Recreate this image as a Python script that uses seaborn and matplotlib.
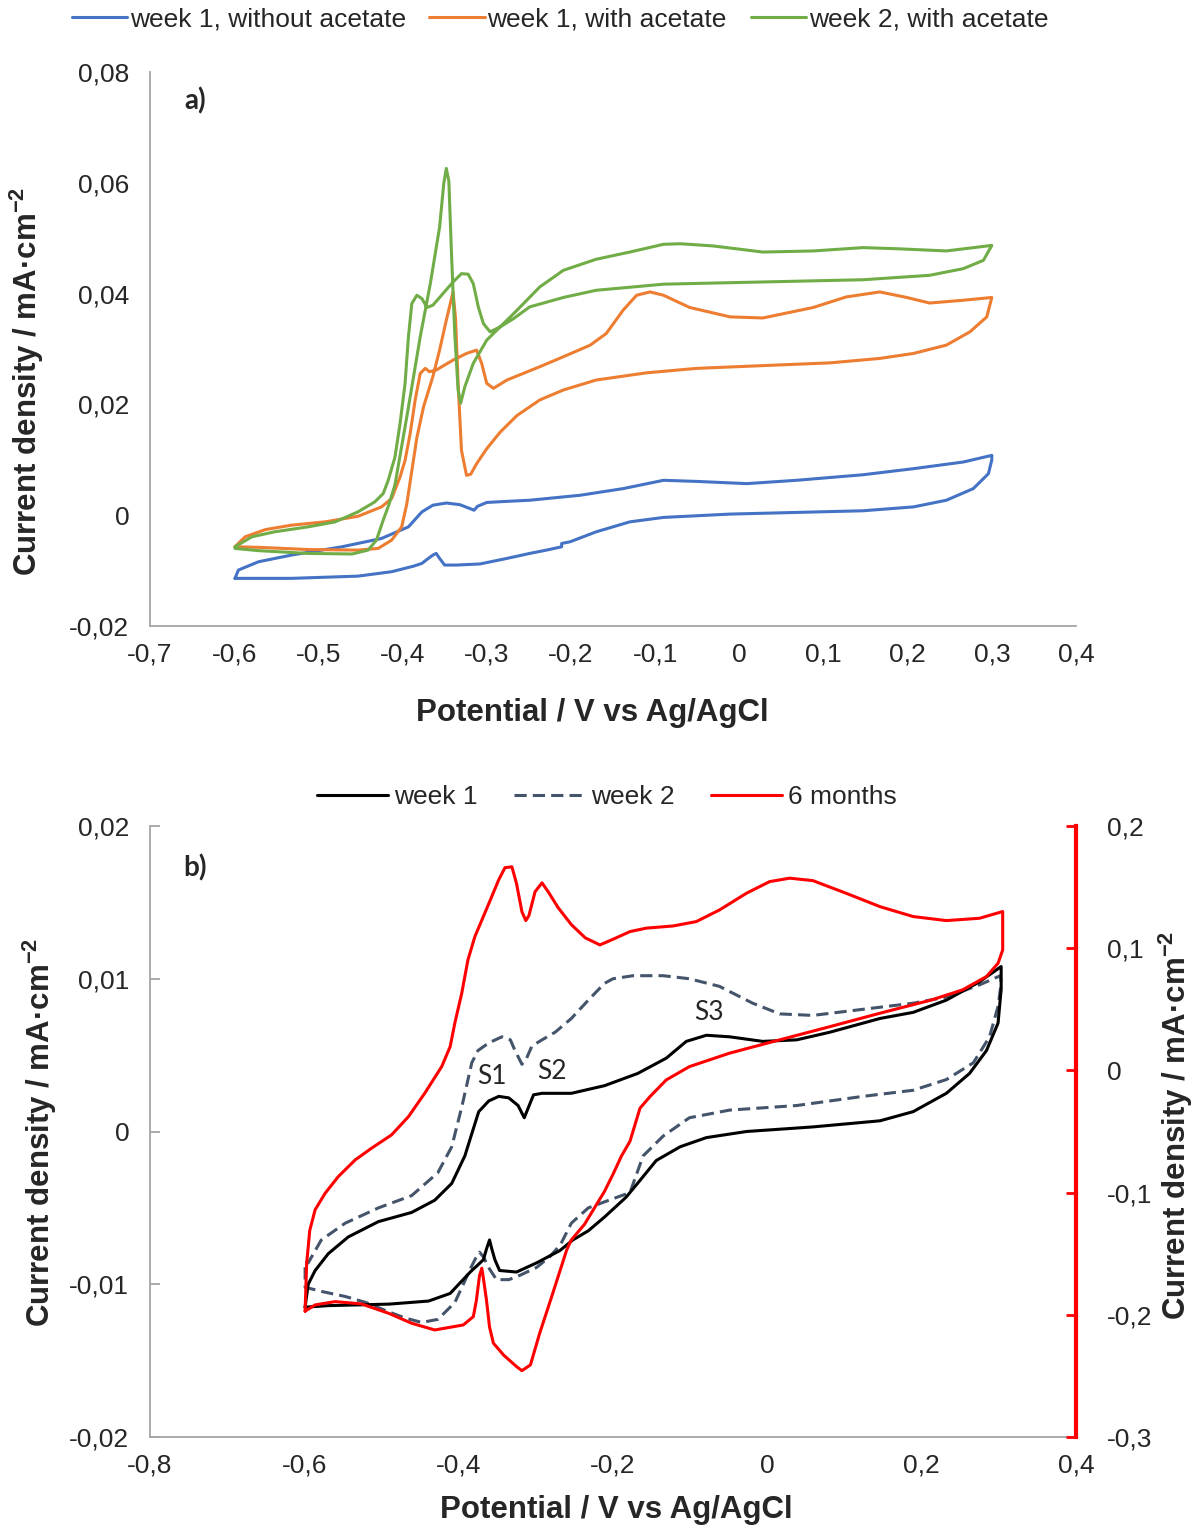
import numpy as np
import matplotlib
matplotlib.use("Agg")
import matplotlib.pyplot as plt
import seaborn as sns
from matplotlib.ticker import FuncFormatter
from matplotlib.lines import Line2D

# ---------------- data : panel a ----------------
blue_v = [-0.599,-0.595,-0.571,-0.532,-0.472,-0.425,-0.393,-0.377,-0.364,-0.348,-0.332,-0.320,-0.315,-0.311,-0.300,-0.276,-0.249,-0.189,-0.138,-0.090,-0.051,0.009,0.068,0.147,0.207,0.266,0.300,
          0.300,0.296,0.278,0.246,0.207,0.147,0.068,-0.011,-0.090,-0.130,-0.170,-0.201,-0.211,-0.211,-0.229,-0.249,-0.276,-0.308,-0.336,-0.350,-0.356,-0.360,-0.364,-0.372,-0.377,-0.387,-0.413,-0.453,-0.532,-0.599]
blue_i = [-0.0114,-0.0099,-0.0084,-0.0072,-0.0057,-0.0042,-0.0021,0.0006,0.0018,0.0022,0.0019,0.0012,0.0009,0.0016,0.0023,0.0025,0.0027,0.0036,0.0048,0.0063,0.0061,0.0057,0.0063,0.0073,0.0084,0.0096,0.0108,
          0.0100,0.0075,0.0048,0.0027,0.0015,0.0008,0.0005,0.0002,-0.0004,-0.0012,-0.0030,-0.0048,-0.0051,-0.0057,-0.0063,-0.0069,-0.0078,-0.0088,-0.0090,-0.0090,-0.0078,-0.0069,-0.0072,-0.0081,-0.0087,-0.0092,-0.0102,-0.0110,-0.0114,-0.0114]

orange_v = [-0.599,-0.571,-0.512,-0.453,-0.429,-0.413,-0.401,-0.395,-0.389,-0.383,-0.375,-0.364,-0.356,-0.348,-0.340,-0.337,-0.334,-0.330,-0.324,-0.319,-0.312,-0.300,-0.284,-0.264,-0.237,-0.209,-0.170,-0.110,-0.051,0.028,0.108,0.167,0.207,0.246,0.274,0.294,0.300,
            0.266,0.226,0.199,0.167,0.127,0.088,0.028,-0.011,-0.059,-0.090,-0.106,-0.122,-0.138,-0.158,-0.177,-0.209,-0.237,-0.276,-0.292,-0.300,-0.306,-0.312,-0.324,-0.340,-0.360,-0.368,-0.373,-0.379,-0.385,-0.391,-0.397,-0.403,-0.413,-0.425,-0.453,-0.492,-0.532,-0.563,-0.587,-0.599]
orange_i = [-0.0057,-0.0058,-0.0062,-0.0063,-0.0060,-0.0045,-0.0021,0.0020,0.0080,0.0140,0.0196,0.0250,0.0298,0.0352,0.0403,0.0354,0.0238,0.0117,0.0072,0.0074,0.0093,0.0120,0.0150,0.0180,0.0208,0.0226,0.0244,0.0257,0.0265,0.0270,0.0275,0.0283,0.0292,0.0307,0.0331,0.0358,0.0393,
            0.0388,0.0383,0.0393,0.0403,0.0394,0.0375,0.0356,0.0358,0.0375,0.0397,0.0403,0.0397,0.0370,0.0328,0.0307,0.0286,0.0268,0.0244,0.0229,0.0238,0.0274,0.0298,0.0292,0.0280,0.0262,0.0259,0.0265,0.0256,0.0208,0.0147,0.0099,0.0069,0.0030,0.0015,-0.0002,-0.0012,-0.0018,-0.0026,-0.0039,-0.0057]

green_v = [-0.599,-0.571,-0.512,-0.460,-0.441,-0.431,-0.423,-0.416,-0.409,-0.395,-0.379,-0.367,-0.356,-0.351,-0.348,-0.345,-0.342,-0.338,-0.334,-0.331,-0.326,-0.316,-0.300,-0.284,-0.264,-0.237,-0.209,-0.170,-0.130,-0.090,-0.070,-0.031,0.028,0.088,0.147,0.187,0.246,0.300,
           0.290,0.266,0.226,0.147,0.028,-0.090,-0.170,-0.209,-0.249,-0.268,-0.284,-0.296,-0.304,-0.310,-0.316,-0.322,-0.330,-0.340,-0.352,-0.364,-0.371,-0.377,-0.383,-0.389,-0.393,-0.397,-0.403,-0.409,-0.417,-0.423,-0.433,-0.453,-0.480,-0.512,-0.552,-0.579,-0.599]
green_i = [-0.0060,-0.0064,-0.0069,-0.0070,-0.0063,-0.0045,-0.0009,0.0020,0.0055,0.0177,0.0322,0.0418,0.0520,0.0599,0.0626,0.0603,0.0478,0.0328,0.0226,0.0202,0.0232,0.0274,0.0316,0.0340,0.0370,0.0412,0.0442,0.0462,0.0475,0.0489,0.0490,0.0486,0.0475,0.0477,0.0483,0.0481,0.0477,0.0487,
           0.0460,0.0445,0.0433,0.0425,0.0421,0.0417,0.0406,0.0393,0.0376,0.0355,0.0340,0.0331,0.0346,0.0376,0.0418,0.0435,0.0436,0.0421,0.0400,0.0379,0.0375,0.0391,0.0397,0.0382,0.0322,0.0238,0.0165,0.0105,0.0063,0.0039,0.0024,0.0006,-0.0012,-0.0021,-0.0030,-0.0039,-0.0057]

# ---------------- data : panel b ----------------
w1_v = [-0.599,-0.595,-0.586,-0.569,-0.543,-0.504,-0.461,-0.431,-0.409,-0.392,-0.379,-0.374,-0.361,-0.348,-0.335,-0.323,-0.315,-0.311,-0.303,-0.292,-0.254,-0.211,-0.168,-0.131,-0.105,-0.079,-0.049,-0.006,0.038,0.081,0.146,0.189,0.232,0.275,0.303,
        0.303,0.299,0.284,0.262,0.232,0.189,0.146,0.059,-0.027,-0.079,-0.113,-0.144,-0.165,-0.183,-0.211,-0.232,-0.252,-0.269,-0.299,-0.325,-0.347,-0.353,-0.357,-0.360,-0.364,-0.368,-0.385,-0.411,-0.439,-0.490,-0.569,-0.599]
w1_i = [-0.0115,-0.0100,-0.0091,-0.0080,-0.0069,-0.0059,-0.0053,-0.0045,-0.0034,-0.0016,0.0005,0.0013,0.0020,0.0023,0.0022,0.0017,0.0009,0.0014,0.0024,0.0025,0.0025,0.0030,0.0038,0.0048,0.0059,0.0063,0.0062,0.0059,0.0060,0.0065,0.0074,0.0078,0.0086,0.0098,0.0108,
        0.0093,0.0071,0.0053,0.0038,0.0025,0.0013,0.0007,0.0003,0.0000,-0.0004,-0.0010,-0.0019,-0.0032,-0.0043,-0.0056,-0.0065,-0.0071,-0.0078,-0.0086,-0.0092,-0.0091,-0.0084,-0.0077,-0.0071,-0.0077,-0.0084,-0.0092,-0.0106,-0.0111,-0.0113,-0.0114,-0.0115]

w2_v = [-0.599,-0.595,-0.578,-0.547,-0.504,-0.461,-0.427,-0.409,-0.396,-0.383,-0.375,-0.361,-0.344,-0.333,-0.327,-0.318,-0.312,-0.305,-0.292,-0.275,-0.254,-0.232,-0.211,-0.200,-0.174,-0.135,-0.101,-0.062,-0.019,0.016,0.059,0.124,0.189,0.232,0.275,0.302,
        0.303,0.299,0.288,0.267,0.232,0.189,0.124,0.038,-0.049,-0.101,-0.135,-0.161,-0.178,-0.200,-0.232,-0.254,-0.268,-0.282,-0.299,-0.320,-0.335,-0.351,-0.360,-0.368,-0.373,-0.378,-0.385,-0.394,-0.405,-0.427,-0.448,-0.470,-0.491,-0.520,-0.547,-0.575,-0.599,-0.599]
w2_i = [-0.0086,-0.0086,-0.0071,-0.0060,-0.0050,-0.0042,-0.0027,-0.0010,0.0016,0.0045,0.0053,0.0058,0.0062,0.0060,0.0053,0.0044,0.0048,0.0056,0.0060,0.0065,0.0074,0.0086,0.0097,0.0100,0.0102,0.0102,0.0100,0.0095,0.0084,0.0077,0.0076,0.0080,0.0084,0.0088,0.0096,0.0102,
        0.0097,0.0082,0.0062,0.0045,0.0034,0.0027,0.0023,0.0017,0.0014,0.0009,-0.0003,-0.0016,-0.0040,-0.0044,-0.0050,-0.0060,-0.0074,-0.0082,-0.0089,-0.0094,-0.0097,-0.0097,-0.0090,-0.0082,-0.0079,-0.0083,-0.0090,-0.0100,-0.0112,-0.0123,-0.0125,-0.0122,-0.0118,-0.0112,-0.0108,-0.0105,-0.0102,-0.0086]

m6_v = [-0.599,-0.597,-0.593,-0.586,-0.573,-0.556,-0.534,-0.513,-0.487,-0.465,-0.444,-0.422,-0.411,-0.405,-0.396,-0.388,-0.379,-0.361,-0.348,-0.340,-0.331,-0.325,-0.318,-0.313,-0.309,-0.301,-0.292,-0.284,-0.271,-0.254,-0.236,-0.217,-0.200,-0.178,-0.157,-0.122,-0.092,-0.062,-0.027,0.003,0.029,0.059,0.102,0.146,0.189,0.232,0.275,0.305,
        0.305,0.299,0.284,0.253,0.213,0.146,0.081,0.016,-0.049,-0.101,-0.131,-0.152,-0.165,-0.178,-0.189,-0.200,-0.211,-0.237,-0.254,-0.260,-0.278,-0.295,-0.307,-0.318,-0.325,-0.342,-0.355,-0.360,-0.364,-0.368,-0.370,-0.373,-0.377,-0.381,-0.394,-0.411,-0.431,-0.461,-0.491,-0.526,-0.560,-0.586,-0.599]
m6_i = [-0.1970,-0.1580,-0.1310,-0.1140,-0.1005,-0.0869,-0.0732,-0.0637,-0.0528,-0.0378,-0.0187,0.0031,0.0195,0.0386,0.0632,0.0904,0.1095,0.1364,0.1561,0.1659,0.1666,0.1528,0.1298,0.1226,0.1266,0.1462,0.1535,0.1462,0.1331,0.1193,0.1085,0.1027,0.1073,0.1136,0.1164,0.1182,0.1218,0.1313,0.1450,0.1545,0.1573,0.1553,0.1450,0.1340,0.1259,0.1226,0.1245,0.1300,
        0.0986,0.0877,0.0768,0.0659,0.0577,0.0468,0.0358,0.0250,0.0141,0.0031,-0.0078,-0.0214,-0.0309,-0.0580,-0.0700,-0.0850,-0.0990,-0.1260,-0.1387,-0.1469,-0.1823,-0.2151,-0.2410,-0.2457,-0.2424,-0.2328,-0.2232,-0.2100,-0.1878,-0.1700,-0.1619,-0.1680,-0.1880,-0.2015,-0.2083,-0.2102,-0.2124,-0.2069,-0.1987,-0.1911,-0.1892,-0.1919,-0.1970]

legend_a = ["week 1, without acetate", "week 1, with acetate", "week 2, with acetate"]
legend_b = ["week 1", "week 2", "6 months"]

# ---------------- style ----------------
sns.set_theme(style="white")
plt.rcParams['font.family'] = ['Liberation Sans', 'DejaVu Sans']
plt.rcParams['mathtext.fontset'] = 'custom'
plt.rcParams['mathtext.rm'] = 'Liberation Sans'
plt.rcParams['mathtext.bf'] = 'Liberation Sans:bold'
plt.rcParams['lines.solid_joinstyle'] = 'round'
plt.rcParams['lines.dash_joinstyle'] = 'round'

C_BLUE, C_ORANGE, C_GREEN = "#4472C4", "#ED7D31", "#70AD47"
C_W1, C_W2, C_M6 = "#000000", "#44546A", "#FF0000"
GREY = "#A6A6A6"
TXT = "#262626"
LW = 2.2
DASH = (0, (4, 2))
FS_TICK = 19
FS_LEG = 19
FS_LAB = 22.5

W, H = 1204, 1528
fig = plt.figure(figsize=(W / 100, H / 100), dpi=100)
axa = fig.add_axes([150 / W, 1 - 626 / H, 926 / W, 554 / H])
axb = fig.add_axes([150 / W, 1 - 1437 / H, 926 / W, 611 / H])
axb2 = axb.twinx()


def comma(dec):
    def f(v, pos):
        if abs(v) < 1e-9:
            return "0"
        return f"{v:.{dec}f}".replace(".", ",")
    return FuncFormatter(f)


def draw(ax, v, i, color, ls="-"):
    sns.lineplot(x=v, y=i, ax=ax, sort=False, estimator=None, color=color,
                 linewidth=LW, linestyle=ls, legend=False)


# panel a
draw(axa, blue_v, blue_i, C_BLUE)
draw(axa, orange_v, orange_i, C_ORANGE)
draw(axa, green_v, green_i, C_GREEN)

# panel b
draw(axb, w2_v, w2_i, C_W2, DASH)
draw(axb, w1_v, w1_i, C_W1)
draw(axb2, m6_v, m6_i, C_M6)

for ax in (axa, axb):
    for s in ("top", "right"):
        ax.spines[s].set_visible(False)
    for s in ("left", "bottom"):
        ax.spines[s].set_color(GREY)
        ax.spines[s].set_linewidth(1.3)
    ax.tick_params(axis="both", direction="in", length=7, width=1.3, color=GREY,
                   labelsize=FS_TICK, labelcolor=TXT)
    ax.tick_params(axis="y", pad=15)
    ax.tick_params(axis="x", pad=12)
    ax.set_xlabel("")
    ax.set_ylabel("")

axa.set_xlim(-0.7, 0.4)
axa.set_ylim(-0.02, 0.08)
axa.set_xticks(np.round(np.arange(-0.7, 0.401, 0.1), 2))
axa.set_yticks(np.round(np.arange(-0.02, 0.0801, 0.02), 3))
axa.xaxis.set_major_formatter(comma(1))
axa.yaxis.set_major_formatter(comma(2))

axb.set_xlim(-0.8, 0.4)
axb.set_ylim(-0.02, 0.02)
axb.set_xticks(np.round(np.arange(-0.8, 0.401, 0.2), 2))
axb.set_yticks(np.round(np.arange(-0.02, 0.0201, 0.01), 3))
axb.xaxis.set_major_formatter(comma(1))
axb.yaxis.set_major_formatter(comma(2))

axb2.set_ylim(-0.3, 0.2)
axb2.set_yticks(np.round(np.arange(-0.3, 0.201, 0.1), 2))
axb2.yaxis.set_major_formatter(comma(1))
for s in ("top", "left", "bottom"):
    axb2.spines[s].set_visible(False)
axb2.spines["right"].set_color(C_M6)
axb2.spines["right"].set_linewidth(3)
axb2.tick_params(axis="y", direction="in", length=7, width=2, color=C_M6,
                 labelsize=FS_TICK, labelcolor=TXT, pad=22)
axb2.set_ylabel("")
axb2.grid(False)

# axis titles
ylab = "Current density / mA·cm$^{\\mathbf{-2}}$"
fig.text(592 / W, 1 - 713 / H, "Potential / V vs Ag/AgCl", fontsize=FS_LAB,
         fontweight="bold", color=TXT, ha="center", va="center")
fig.text(616 / W, 1 - 1510 / H, "Potential / V vs Ag/AgCl", fontsize=FS_LAB,
         fontweight="bold", color=TXT, ha="center", va="center")
fig.text(27 / W, 1 - 381 / H, ylab, fontsize=FS_LAB, fontweight="bold", color=TXT,
         rotation=90, ha="center", va="center")
fig.text(40 / W, 1 - 1132 / H, ylab, fontsize=FS_LAB, fontweight="bold", color=TXT,
         rotation=90, ha="center", va="center")
fig.text(1176 / W, 1 - 1125 / H, ylab, fontsize=FS_LAB, fontweight="bold", color=TXT,
         rotation=90, ha="center", va="center")

# panel tags and peak labels
axa.text(0.049, 0.948, "a)", transform=axa.transAxes, fontsize=20,
         fontweight="bold", family="Lato", color=TXT, ha="center", va="center")
axb.text(0.049, 0.931, "b)", transform=axb.transAxes, fontsize=20,
         fontweight="bold", family="Lato", color=TXT, ha="center", va="center")
axb.text(-0.357, 0.00357, "S1", fontsize=19, family="Lato", color=TXT, ha="center", va="center")
axb.text(-0.279, 0.00396, "S2", fontsize=19, family="Lato", color=TXT, ha="center", va="center")
axb.text(-0.075, 0.00776, "S3", fontsize=19, family="Lato", color=TXT, ha="center", va="center")

# legends
ha = [Line2D([], [], color=c, lw=LW) for c in (C_BLUE, C_ORANGE, C_GREEN)]
fig.legend(ha, legend_a, loc="center", bbox_to_anchor=(0.465, 1 - 19 / H), ncol=3,
           frameon=False, fontsize=FS_LEG, handlelength=2.1, handletextpad=0.1,
           columnspacing=0.9, labelcolor=TXT)
hb = [Line2D([], [], color=C_W1, lw=LW),
      Line2D([], [], color=C_W2, lw=LW, linestyle=DASH),
      Line2D([], [], color=C_M6, lw=LW)]
fig.legend(hb, legend_b, loc="center", bbox_to_anchor=(0.504, 1 - 797 / H), ncol=3,
           frameon=False, fontsize=FS_LEG, handlelength=2.7, handletextpad=0.2,
           columnspacing=1.4, labelcolor=TXT)

fig.savefig("out.png", dpi=100, facecolor="white")
